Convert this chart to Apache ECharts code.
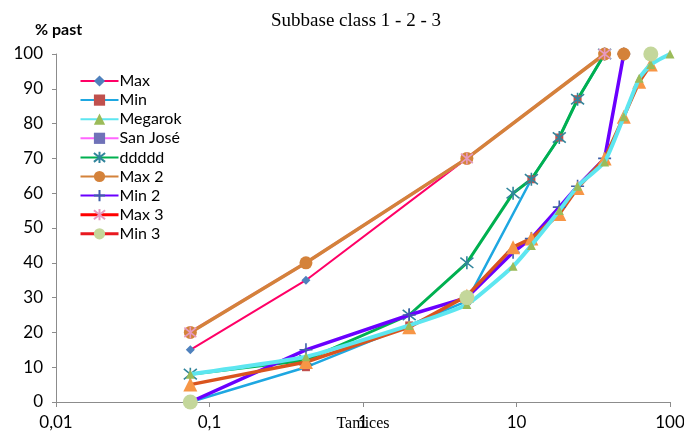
<!DOCTYPE html>
<html><head><meta charset="utf-8">
<script src="https://cdn.jsdelivr.net/npm/echarts@6/dist/echarts.min.js"></script>
<style>html,body{margin:0;padding:0;background:#fff}#c{width:684px;height:435px}</style>
</head><body><div id="c"></div>
<script>
// ---- data ----
const titleText = 'Subbase class 1 - 2 - 3';
const yName = '% past';
const xName = 'Tamices';
const legendNames = ['Max','Min','Megarok','San José','ddddd','Max 2','Min 2','Max 3','Min 3'];

const maxX = [0.075, 0.425, 4.75, 37.5];
const maxY = [15, 35, 70, 100];
const minX = [0.075, 0.425, 2, 4.75, 12.5, 19, 25, 37.5];
const minY = [0, 10, 22, 29, 64, 76, 87, 100];
const megX = [0.075, 0.425, 2, 4.75, 9.5, 12.5, 19, 25, 37.5, 50, 63, 75, 100];
const megY = [8, 13, 22, 28, 39, 45, 55, 62, 69, 82, 93, 97, 100];
const sjX = [0.075, 0.425, 4.75, 37.5];
const sjY = [20, 40, 70, 100];
const dX = [0.075, 0.425, 2, 4.75, 9.5, 12.5, 19, 25, 37.5];
const dY = [8, 12, 25, 40, 60, 64, 76, 87, 100];
const max2X = [0.075, 0.425, 4.75, 37.5];
const max2Y = [20, 40, 70, 100];
const min2X = [0.075, 0.425, 2, 4.75, 9.5, 12.5, 19, 25, 37.5, 50];
const min2Y = [0, 15, 25, 30, 43, 47, 56, 62, 70, 100];
const max3X = [0.075, 4.75, 37.5];
const max3Y = [20, 70, 100];
const min3X = [0.075, 4.75, 75];
const min3Y = [0, 30, 100];
const extraX = [0.075, 0.425, 2, 4.75, 9.5, 12.5, 19, 25, 37.5, 50, 63, 75];
const extraY = [5, 11.5, 21.5, 30.5, 44.5, 47, 54, 61.5, 70, 82, 92, 97];
const extra2X = [50];
const extra2Y = [100];

const zip = (xs, ys) => xs.map((x, i) => [x, ys[i]]);
const AST = 'path://M1,1L9,9M9,1L1,9M5,0L5,10';
const PLUS = 'path://M5,0L5,10M0,5L10,5';

function ser(name, xs, ys, line, lw, sym, symSize, symColor, opts) {
  const o = {
    name, type: 'line', data: zip(xs, ys),
    symbol: sym, symbolSize: symSize, showAllSymbol: true,
    lineStyle: { color: line, width: lw },
    itemStyle: { color: symColor, borderColor: symColor, borderWidth: (sym === AST || sym === PLUS) ? 1.6 : 0, opacity: 1 },
    emphasis: { disabled: true }, animation: false
  };
  return Object.assign(o, opts || {});
}

const chart = echarts.init(document.getElementById('c'), null, { renderer: 'canvas' });
chart.setOption({
  animation: false,
  title: { text: titleText, left: 351, textAlign: 'center', top: 7,
    textStyle: { fontFamily: 'Liberation Serif', fontSize: 19, fontWeight: 'normal', color: '#000' } },
  graphic: [{ type: 'text', left: 35, top: 22,
    style: { text: yName, fontFamily: 'Lato', fontWeight: 'bold', fontSize: 16, fill: '#000' } }],
  legend: {
    orient: 'vertical', left: 74, top: 68, itemWidth: 38, itemHeight: 14, itemGap: 3.1,
    textStyle: { fontFamily: 'Lato', fontSize: 16, color: '#000', padding: [0, 0, 0, -4] },
    data: legendNames.map(n => {
      if (n === 'Max 3') return { name: n, lineStyle: { color: '#FF0000', width: 3, opacity: 1 } };
      if (n === 'Min 3') return { name: n, lineStyle: { color: '#E8191F', width: 3, opacity: 1 } };
      return { name: n };
    })
  },
  grid: { left: 56, right: 14, top: 54, bottom: 33, containLabel: false, outerBoundsMode: 'none' },
  xAxis: {
    type: 'log', logBase: 10, min: 0.01, max: 100,
    name: xName, nameLocation: 'middle', nameGap: 14, nameMoveOverlap: false,
    nameTextStyle: { fontFamily: 'Liberation Serif', fontSize: 16, color: '#000' },
    axisLine: { lineStyle: { color: '#8c8c8c', width: 1 } },
    axisTick: { show: true, length: 5, lineStyle: { color: '#8c8c8c' } },
    minorTick: { show: false },
    splitLine: { show: false },
    axisLabel: { fontFamily: 'Lato', fontSize: 17, color: '#000', margin: 12,
      formatter: v => String(v).replace('.', ',') }
  },
  yAxis: {
    type: 'value', min: 0, max: 100, interval: 10,
    axisLine: { show: true, lineStyle: { color: '#8c8c8c', width: 1 } },
    axisTick: { show: true, length: 4, lineStyle: { color: '#8c8c8c' } },
    splitLine: { show: false },
    axisLabel: { fontFamily: 'Lato', fontSize: 17, color: '#000', margin: 13 }
  },
  series: [
    ser('Max 3', max3X, max3Y, '#FF0000', 3, AST, 12, '#E79AC0', { lineStyle: { color: '#FF0000', width: 3, opacity: 0 }, z: 5 }),
    ser('Max', maxX, maxY, '#FF0066', 2, 'diamond', 9, '#4F81BD', { z: 2 }),
    ser('Min', minX, minY, '#1EA7E1', 2.5, 'rect', 8, '#C0504D', { z: 2 }),
    ser('San José', sjX, sjY, '#FF66FF', 3, 'rect', 8, '#6F72B8', { z: 2 }),
    ser('ddddd', dX, dY, '#00B050', 3, AST, 13, '#31859C', { z: 2 }),
    ser('Max 2', max2X, max2Y, '#D4823A', 3.5, 'circle', 13, '#D4823A', { z: 3 }),
    ser('Min 2', min2X, min2Y, '#6A00FF', 3.5, PLUS, 13, '#3F5FA8', { z: 3 }),
    ser('extra', extraX, extraY, '#D9541E', 3.5, 'triangle', 14, '#F79646', { z: 3 }),
    ser('Megarok', megX, megY, '#5DE6F0', 4, 'triangle', 9, '#9BBB59', { z: 4, smooth: 0.15 }),
    ser('extra2', extra2X, extra2Y, '#D4823A', 0, 'circle', 13, '#D4823A', { z: 4 }),
    ser('Min 3', min3X, min3Y, '#E8191F', 3, 'circle', 15, '#C4D79B', { lineStyle: { color: '#E8191F', width: 3, opacity: 0 }, z: 5 })
  ]
});
</script>
</body></html>
